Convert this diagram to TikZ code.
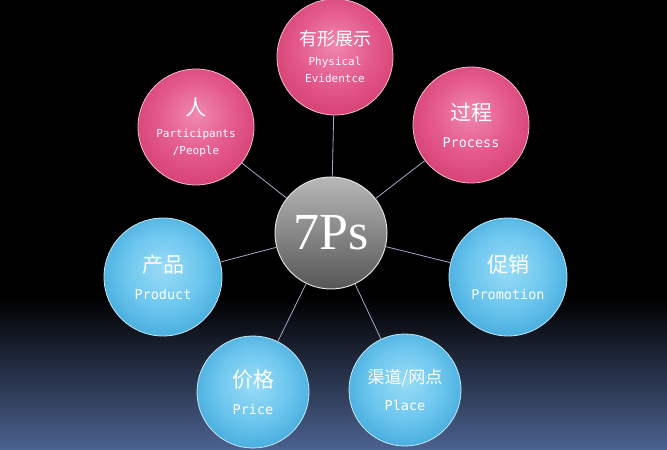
\documentclass[tikz,border=0pt]{standalone}
\usepackage{fontspec}
\usepackage{tikz}
\newfontfamily\cjk{Noto Sans CJK SC}
\newfontfamily\latmono{DejaVu Sans Mono}
\newfontfamily\hubfont{Liberation Serif}

\definecolor{bgnavy}{HTML}{4C6290}
\definecolor{spoke}{HTML}{A4AAC8}
\definecolor{pinkin}{HTML}{F08AAE}
\definecolor{pinkmid}{HTML}{E45A8C}
\definecolor{pinkout}{HTML}{D84478}
\definecolor{bluein}{HTML}{9ADCF6}
\definecolor{bluemid}{HTML}{6CC6EE}
\definecolor{blueout}{HTML}{4AAEDE}
\definecolor{hubtop}{HTML}{B8B8B8}
\definecolor{hubbot}{HTML}{565656}

\pgfdeclareradialshading{pinkball}{\pgfpoint{0bp}{6bp}}{color(0bp)=(pinkin); color(16bp)=(pinkmid); color(27bp)=(pinkout); color(50bp)=(pinkout)}
\pgfdeclareradialshading{blueball}{\pgfpoint{0bp}{4bp}}{color(0bp)=(bluein); color(16bp)=(bluemid); color(27bp)=(blueout); color(50bp)=(blueout)}

\newcommand{\zh}[2]{{\cjk\fontsize{#1}{#1}\selectfont #2}}
\newcommand{\en}[2]{{\latmono\fontsize{#1}{#1}\selectfont #2}}

\begin{document}
\begin{tikzpicture}[x=1pt,y=1pt]
    \tikzset{dot/.style={circle,inner sep=0pt,text=white,align=center,
                         font=\fontsize{12}{16}\selectfont},
             pinkdot/.style={dot,minimum size=116pt,shading=pinkball,draw=pinkin!60!white,line width=0.8pt},
             bluedot/.style={dot,minimum size=118pt,shading=blueball,draw=bluein!60!white,line width=0.8pt},
             hubdot/.style={dot,minimum size=112pt,top color=hubtop,bottom color=hubbot,draw=white!75!gray,line width=1pt},
             spokeline/.style={draw=spoke,line width=0.8pt}}

    % background
    \useasboundingbox (0,0) rectangle (667,450);
    \fill[black] (0,0) rectangle (667,450);
    \shade[top color=black,bottom color=bgnavy] (0,0) rectangle (667,152);

    \node[hubdot] (hub) at (331,217) {\hubfont\fontsize{52}{52}\selectfont 7Ps};

    \node[pinkdot] (evidence) at (335,393) {\zh{18}{有形展示}\\[4pt]\en{11}{Physical}\\[1pt]\en{11}{Evidentce}};
    \node[pinkdot] (people) at (196,323) {\zh{21}{人}\\[6pt]\en{11}{Participants}\\[1pt]\en{11}{/People}};
    \node[pinkdot] (process) at (471,325) {\zh{21}{过程}\\[11pt]\en{13.5}{Process}};

    \node[bluedot] (product) at (163,173) {\zh{21}{产品}\\[11pt]\en{13.5}{Product}};
    \node[bluedot] (promotion) at (508,173) {\zh{21}{促销}\\[11pt]\en{13.5}{Promotion}};
    \node[bluedot,minimum size=112pt] (price) at (253,58) {\zh{21}{价格}\\[11pt]\en{13.5}{Price}};
    \node[bluedot,minimum size=112pt] (place) at (405,60) {\zh{17}{渠道/网点}\\[11pt]\en{13.5}{Place}};

    % spokes
    \foreach \n in {evidence,people,process,product,promotion,price,place}
        \draw[spokeline] (hub) -- (\n);

\end{tikzpicture}
\end{document}
